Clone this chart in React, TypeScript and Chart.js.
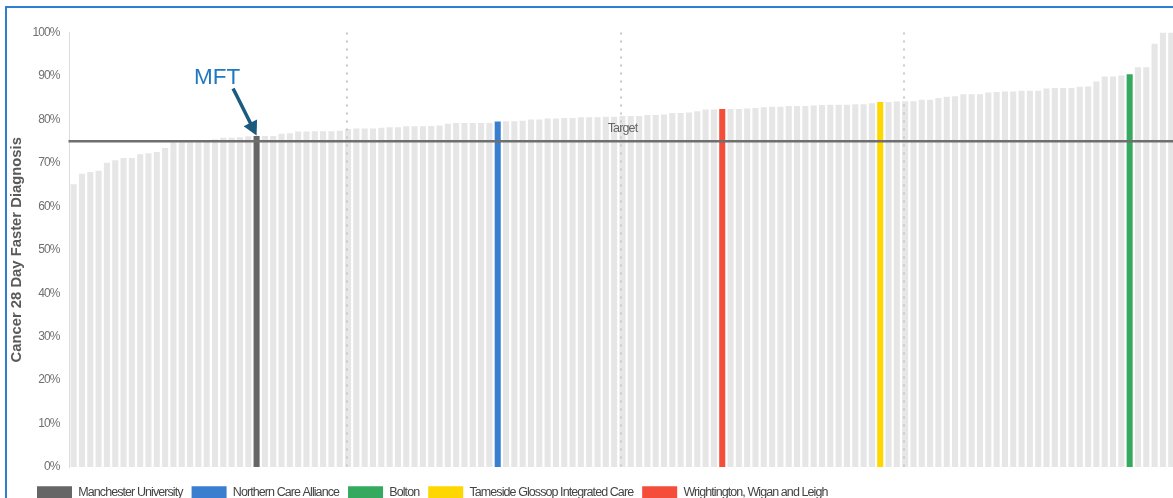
import React, { useEffect, useRef } from 'react';
import { Chart, registerables } from 'chart.js';

Chart.register(...registerables);

// Cancer 28 Day Faster Diagnosis performance by trust, ranked low to high (%)
const trustValues = [
  65.1, 67.5, 67.9, 68.2, 70.0, 70.6, 71.1, 71.1, 72.0, 72.2,
  72.5, 73.4, 75.0, 75.0, 75.0, 75.0, 75.1, 75.4, 75.8, 75.8,
  75.9, 76.1, 76.2, 76.2, 76.2, 76.7, 76.8, 77.2, 77.2, 77.3,
  77.3, 77.3, 77.4, 77.8, 77.9, 77.9, 77.9, 78.1, 78.2, 78.2,
  78.4, 78.4, 78.4, 78.5, 78.6, 79.0, 79.2, 79.2, 79.2, 79.2,
  79.2, 79.5, 79.6, 79.6, 79.7, 80.0, 80.0, 80.2, 80.2, 80.3,
  80.3, 80.5, 80.5, 80.5, 80.6, 80.6, 80.8, 80.8, 80.8, 81.0,
  81.0, 81.1, 81.5, 81.5, 81.6, 81.9, 82.3, 82.3, 82.4, 82.4,
  82.4, 82.5, 82.6, 82.8, 82.9, 82.9, 83.1, 83.1, 83.1, 83.2,
  83.3, 83.4, 83.4, 83.4, 83.5, 83.5, 83.7, 84.0, 84.0, 84.1,
  84.2, 84.2, 84.5, 84.5, 84.9, 85.2, 85.3, 85.8, 85.8, 85.8,
  86.2, 86.3, 86.4, 86.4, 86.6, 86.6, 86.6, 87.1, 87.2, 87.2,
  87.2, 87.5, 87.6, 88.7, 89.9, 89.9, 90.1, 90.4, 92.0, 92.0,
  97.4, 100, 100,
];

// Greater Manchester trusts picked out in colour, with their rank position
const highlightNames = [
  'Manchester University',
  'Northern Care Alliance',
  'Bolton',
  'Tameside Glossop Integrated Care',
  'Wrightington, Wigan and Leigh',
];
const highlightRanks = [23, 52, 128, 98, 79];

const targetValue = 75;
const targetLabel = 'Target';
const quartileRanks = [34, 67, 101];
const calloutName = 'Manchester University';
const calloutText = 'MFT';
const axisTitle = 'Cancer 28 Day Faster Diagnosis';
const yMin = 0;
const yMax = 100;
const yStep = 10;

// styling
const BASE_BAR = '#e6e6e6';
const HIGHLIGHT_COLORS = ['#666666', '#3a7fcf', '#35a95e', '#ffd700', '#f44e3b'];
const FONT = "'Liberation Sans', Arial, sans-serif";
const TIGHT = '-0.92px';

const labels = trustValues.map((_, i) => {
  const h = highlightRanks.indexOf(i + 1);
  return h >= 0 ? highlightNames[h] : `Trust ${i + 1}`;
});
const barColors = trustValues.map((_, i) => {
  const h = highlightRanks.indexOf(i + 1);
  return h >= 0 ? HIGHLIGHT_COLORS[h] : BASE_BAR;
});

// Axis and legend text is set slightly condensed
const condensedTextPlugin = {
  id: 'condensedText',
  beforeDraw(chart: any) {
    chart.ctx.letterSpacing = TIGHT;
  },
  afterDraw(chart: any) {
    chart.ctx.letterSpacing = '0px';
  },
};

const overlayPlugin = {
  id: 'overlay',
  afterDatasetsDraw(chart: any) {
    const { ctx, chartArea, scales } = chart;
    const x = scales.x;
    const y = scales.y;
    ctx.save();

    // dotted quartile guides
    ctx.strokeStyle = '#c9c9c9';
    ctx.lineWidth = 2;
    ctx.setLineDash([2, 6]);
    quartileRanks.forEach((r) => {
      const px = Math.round(x.getPixelForValue(r - 1)) - 1;
      ctx.beginPath();
      ctx.moveTo(px, chartArea.top);
      ctx.lineTo(px, chartArea.bottom);
      ctx.stroke();
    });
    ctx.setLineDash([]);

    // target line
    const ty = y.getPixelForValue(targetValue);
    ctx.strokeStyle = '#6f6f6f';
    ctx.lineWidth = 2.5;
    ctx.beginPath();
    ctx.moveTo(chartArea.left - 1, ty);
    ctx.lineTo(chartArea.right, ty);
    ctx.stroke();

    ctx.letterSpacing = '-0.85px';
    ctx.fillStyle = '#666666';
    ctx.font = `12.5px ${FONT}`;
    ctx.textAlign = 'center';
    ctx.textBaseline = 'alphabetic';
    ctx.fillText(targetLabel, (chartArea.left + chartArea.right) / 2, ty - 9.4);

    // y axis title
    ctx.letterSpacing = '0px';
    ctx.save();
    ctx.translate(chartArea.left - 52.5, (chartArea.top + chartArea.bottom) / 2);
    ctx.rotate(-Math.PI / 2);
    ctx.fillStyle = '#595959';
    ctx.font = `bold 14.8px ${FONT}`;
    ctx.textAlign = 'center';
    ctx.textBaseline = 'middle';
    ctx.fillText(axisTitle, 0, 0);
    ctx.restore();

    // callout arrow to the highlighted trust
    const idx = labels.indexOf(calloutName);
    const el = chart.getDatasetMeta(0).data[idx];
    if (el) {
      const tipX = el.x;
      const tipY = el.y - 0.5;
      const tailX = tipX - 23.5;
      const tailY = tipY - 47;
      const dx = tipX - tailX;
      const dy = tipY - tailY;
      const len = Math.hypot(dx, dy);
      const ux = dx / len;
      const uy = dy / len;
      const headLen = 14;
      const headHalf = 7.5;
      const baseX = tipX - ux * headLen;
      const baseY = tipY - uy * headLen;
      ctx.strokeStyle = '#1c5a7e';
      ctx.fillStyle = '#1c5a7e';
      ctx.lineWidth = 3.5;
      ctx.beginPath();
      ctx.moveTo(tailX, tailY);
      ctx.lineTo(baseX + ux * 1, baseY + uy * 1);
      ctx.stroke();
      ctx.beginPath();
      ctx.moveTo(tipX, tipY);
      ctx.lineTo(baseX - uy * headHalf, baseY + ux * headHalf);
      ctx.lineTo(baseX + uy * headHalf, baseY - ux * headHalf);
      ctx.closePath();
      ctx.fill();

      ctx.fillStyle = '#1f78c1';
      ctx.font = `22.5px ${FONT}`;
      ctx.textAlign = 'center';
      ctx.textBaseline = 'alphabetic';
      ctx.fillText(calloutText, tipX - 39.5, el.y - 52.3);
    }
    ctx.restore();
    ctx.letterSpacing = TIGHT;
  },
};

export default function App() {
  const canvasRef = useRef<HTMLCanvasElement | null>(null);

  useEffect(() => {
    if (!canvasRef.current) return;
    const chart = new Chart(canvasRef.current, {
      type: 'bar',
      data: {
        labels,
        datasets: [
          {
            label: axisTitle,
            data: trustValues,
            backgroundColor: barColors,
            borderWidth: 0,
            barPercentage: 0.73,
            categoryPercentage: 1,
          },
        ],
      },
      options: {
        responsive: false,
        animation: false,
        layout: { padding: { left: 28, top: 32.5, right: 24.6, bottom: 11.5 } },
        plugins: {
          tooltip: { enabled: false },
          legend: {
            position: 'bottom',
            align: 'start',
            onClick: () => {},
            labels: {
              boxWidth: 35,
              boxHeight: 12,
              padding: 9,
              color: '#444444',
              font: { family: FONT, size: 12.5 },
              generateLabels: () =>
                highlightNames.map((name, i) => ({
                  text: name,
                  fillStyle: HIGHLIGHT_COLORS[i],
                  strokeStyle: HIGHLIGHT_COLORS[i],
                  lineWidth: 0,
                  hidden: false,
                  datasetIndex: 0,
                  fontColor: '#444444',
                })),
            },
          },
        },
        scales: {
          x: {
            display: true,
            ticks: { display: false },
            grid: { display: false, drawTicks: false },
            border: { display: false },
            afterFit: (s: any) => {
              s.height = 10;
            },
          },
          y: {
            min: yMin,
            max: yMax,
            afterFit: (s: any) => {
              s.width = 41.5;
            },
            ticks: {
              stepSize: yStep,
              color: '#707070',
              padding: 10,
              font: { family: FONT, size: 12 },
              callback: (v: any) => `${v}%`,
            },
            grid: { display: false, drawTicks: false },
            border: { display: true, color: '#dcdcdc', width: 1 },
            title: { display: false },
          },
        },
      },
      plugins: [condensedTextPlugin, overlayPlugin],
    });
    return () => chart.destroy();
  }, []);

  return (
    <div
      style={{
        position: 'fixed',
        left: 0,
        top: 0,
        width: 1173,
        height: 498,
        overflow: 'hidden',
        background: '#ffffff',
      }}
    >
      <div
        style={{
          position: 'absolute',
          left: 5,
          top: 6,
          width: 1300,
          height: 700,
          border: '2px solid #2f7fd0',
          boxSizing: 'border-box',
        }}
      />
      <canvas
        ref={canvasRef}
        width={1200}
        height={520}
        style={{ position: 'absolute', left: 0, top: 0, display: 'block' }}
      />
    </div>
  );
}
